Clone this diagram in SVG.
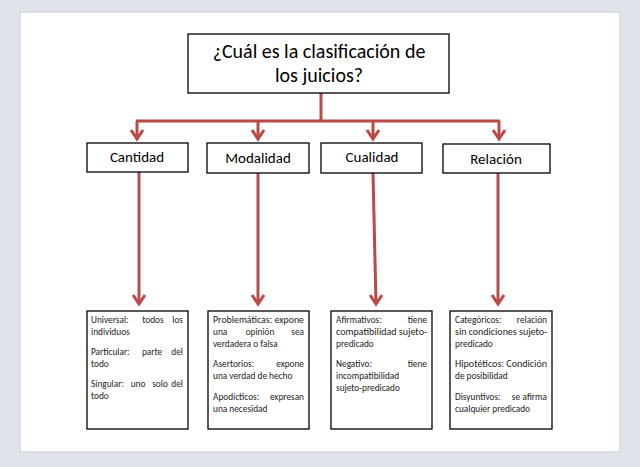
<svg xmlns="http://www.w3.org/2000/svg" width="640" height="467" viewBox="0 0 640 467">
<style>
.b{fill:#fff;stroke:#000;stroke-width:1.3}
.t{font-family:Calibri,"Carlito","Liberation Sans",sans-serif;fill:#000}
.h{font-size:20px}
.m{font-size:15px}
.s{font-size:9.3px;fill:#222}
.r{text-anchor:end}
.mid{text-anchor:middle}
.c{fill:none;stroke:#b94a48;stroke-width:3}
</style>
<defs>
<marker id="a" viewBox="0 0 14 14" refX="7" refY="12" markerWidth="14" markerHeight="14" orient="0" markerUnits="userSpaceOnUse" overflow="visible">
<path d="M1,3 L7,12 L13,3" fill="none" stroke="#b94a48" stroke-width="3"/>
</marker>
</defs>
<rect width="640" height="467" fill="#dfe4ea"/>
<rect x="20" y="12" width="600" height="440" fill="#fff" stroke="#c8ccd2"/>
<g id="connectors">
<path class="c" d="M321,93 V121 M136,121 H500"/>
<path class="c" d="M137,121 V139" marker-end="url(#a)"/>
<path class="c" d="M258,121 V139" marker-end="url(#a)"/>
<path class="c" d="M373,121 V139" marker-end="url(#a)"/>
<path class="c" d="M499,121 V139" marker-end="url(#a)"/>
<path class="c" d="M139,172 V304" marker-end="url(#a)"/>
<path class="c" d="M258,173 V304" marker-end="url(#a)"/>
<path class="c" d="M373,173 L376,304" marker-end="url(#a)"/>
<path class="c" d="M498,173 V304" marker-end="url(#a)"/>
</g>
<g id="title"><rect class="b" x="188" y="34" width="261" height="59"/>
<text class="t h" x="319" y="58" text-anchor="middle">¿Cuál es la clasificación de</text>
<text class="t h" x="319" y="82" text-anchor="middle">los juicios?</text></g>
<g id="cantidad"><rect class="b" x="87" y="143" width="101" height="29"/><text class="t m" x="137" y="162" text-anchor="middle">Cantidad</text></g>
<g id="modalidad"><rect class="b" x="207" y="143" width="102" height="30"/><text class="t m" x="258" y="163" text-anchor="middle">Modalidad</text></g>
<g id="cualidad"><rect class="b" x="321" y="143" width="101" height="30"/><text class="t m" x="372" y="162" text-anchor="middle">Cualidad</text></g>
<g id="relacion"><rect class="b" x="443" y="144" width="107" height="29"/><text class="t m" x="496" y="164" text-anchor="middle">Relación</text></g>
<g id="d1"><rect class="b" x="87" y="311" width="101" height="118"/>
<text class="t s" x="91" y="323">Universal:</text><text class="t s mid" x="153" y="323">todos</text><text class="t s r" x="183" y="323">los</text>
<text class="t s" x="91" y="335">individuos</text>
<text class="t s" x="91" y="355">Particular:</text><text class="t s mid" x="152" y="355">parte</text><text class="t s r" x="183" y="355">del</text>
<text class="t s" x="91" y="367">todo</text>
<text class="t s" x="91" y="387">Singular:</text><text class="t s mid" x="138" y="387">uno</text><text class="t s mid" x="160" y="387">solo</text><text class="t s r" x="183" y="387">del</text>
<text class="t s" x="91" y="399">todo</text></g>
<g id="d2"><rect class="b" x="208" y="311" width="101" height="118"/>
<text class="t s" x="213" y="323" textLength="91" lengthAdjust="spacingAndGlyphs">Problemáticas: expone</text>
<text class="t s" x="213" y="335">una</text><text class="t s mid" x="260" y="335">opinión</text><text class="t s r" x="304" y="335">sea</text>
<text class="t s" x="213" y="347">verdadera o falsa</text>
<text class="t s" x="213" y="367">Asertorios:</text><text class="t s r" x="304" y="367">expone</text>
<text class="t s" x="213" y="379">una verdad de hecho</text>
<text class="t s" x="213" y="400">Apodícticos:</text><text class="t s r" x="304" y="400">expresan</text>
<text class="t s" x="213" y="412">una necesidad</text></g>
<g id="d3"><rect class="b" x="331" y="311" width="101" height="118"/>
<text class="t s" x="336" y="323">Afirmativos:</text><text class="t s r" x="427" y="323">tiene</text>
<text class="t s" x="336" y="335" textLength="91" lengthAdjust="spacingAndGlyphs">compatibilidad sujeto-</text>
<text class="t s" x="336" y="347">predicado</text>
<text class="t s" x="336" y="367">Negativo:</text><text class="t s r" x="427" y="367">tiene</text>
<text class="t s" x="336" y="379">incompatibilidad</text>
<text class="t s" x="336" y="391">sujeto-predicado</text></g>
<g id="d4"><rect class="b" x="450" y="311" width="102" height="118"/>
<text class="t s" x="455" y="323">Categóricos:</text><text class="t s r" x="547" y="323">relación</text>
<text class="t s" x="455" y="335" textLength="92" lengthAdjust="spacingAndGlyphs">sin condiciones sujeto-</text>
<text class="t s" x="455" y="347">predicado</text>
<text class="t s" x="455" y="367" textLength="92" lengthAdjust="spacingAndGlyphs">Hipotéticos: Condición</text>
<text class="t s" x="455" y="379">de posibilidad</text>
<text class="t s" x="455" y="400">Disyuntivos:</text><text class="t s mid" x="516" y="400">se</text><text class="t s r" x="547" y="400">afirma</text>
<text class="t s" x="455" y="412">cualquier predicado</text></g>
</svg>
